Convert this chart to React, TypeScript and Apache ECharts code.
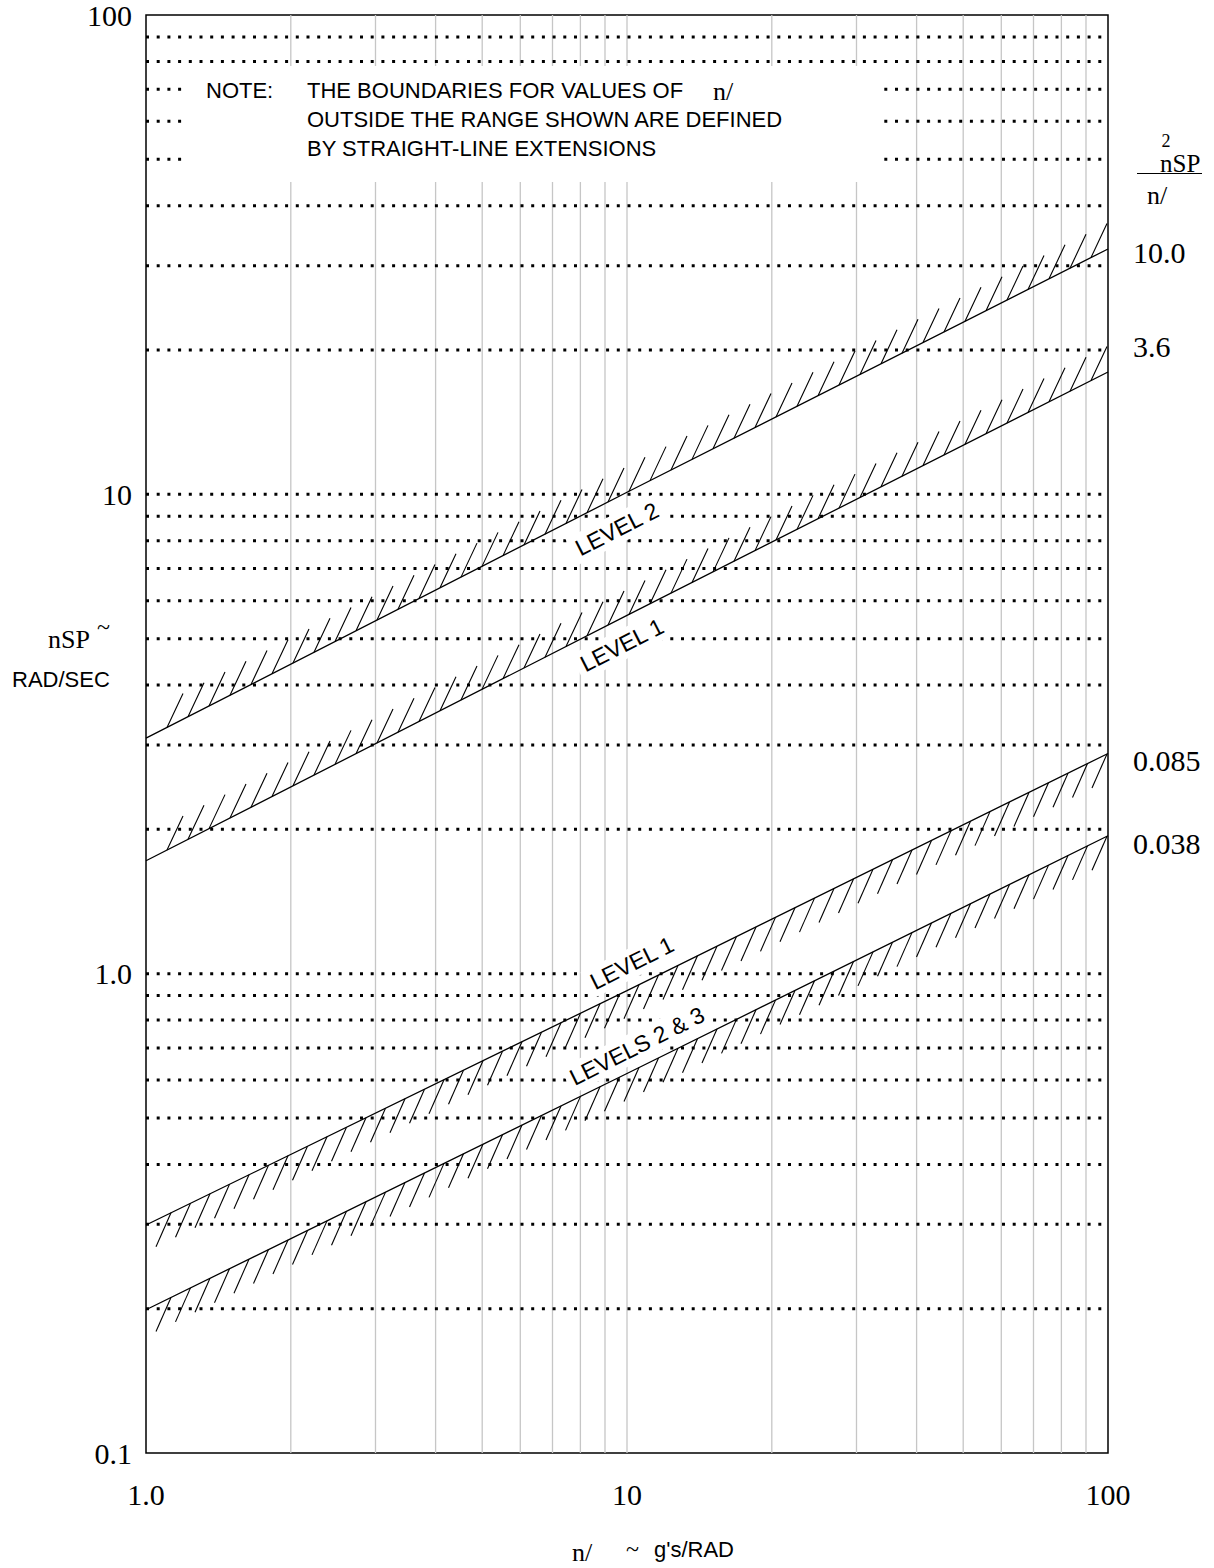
import React, { useEffect, useRef } from 'react';
import * as echarts from 'echarts';

// n/alpha sample points (g's/RAD)
const X_POINTS = [1, 10, 100];
// omega_nSP (RAD/SEC) at the X_POINTS
const LEVEL2_UPPER = [3.1, 10.1, 32.5]; // 10.0
const LEVEL1_UPPER = [1.72, 5.59, 18.0]; // 3.6
const LEVEL1_LOWER = [0.299, 0.922, 2.88]; // 0.085
const LEVEL23_LOWER = [0.199, 0.619, 1.94]; // 0.038
const BOUNDARIES = [LEVEL2_UPPER, LEVEL1_UPPER, LEVEL1_LOWER, LEVEL23_LOWER];
const BOUNDARY_NAMES = ['10.0', '3.6', '0.085', '0.038'];
const HATCH_SIDE = ['above', 'above', 'below', 'below'];

const H_GRID = [0.2, 0.3, 0.4, 0.5, 0.6, 0.7, 0.8, 0.9, 1, 2, 3, 4, 5, 6, 7, 8, 9, 10, 20, 30, 40, 50, 60, 70, 80, 90];
const V_GRID = [2, 3, 4, 5, 6, 7, 8, 9, 10, 20, 30, 40, 50, 60, 70, 80, 90];
const X_TICK_LABELS = ['1.0', '10', '100'];
const Y_TICK_LABELS = ['0.1', '1.0', '10', '100'];

const SERIF = 'Liberation Serif';
const SANS = 'Liberation Sans';

function App() {
  const ref = useRef<HTMLDivElement>(null);
  useEffect(() => {
    if (!ref.current) return;
    const chart = echarts.init(ref.current, null, { renderer: 'svg' });
    const deg = Math.PI / 180;

    const txt = (text: string, x: number, y: number, font: string, size: number, extra: any = {}) => ({
      type: 'text',
      x,
      y,
      z: 12,
      silent: true,
      rotation: extra.rotation || 0,
      style: {
        text,
        x: 0,
        y: 0,
        fill: '#000',
        fontFamily: font,
        fontSize: size,
        align: extra.align || 'left',
        verticalAlign: 'middle',
        backgroundColor: extra.bg,
        padding: extra.bg ? [3, 5] : 0,
      },
    });

    const lineSeries = BOUNDARIES.map((ys, i) => ({
      type: 'line',
      name: BOUNDARY_NAMES[i],
      data: X_POINTS.map((x, k) => [x, ys[k]]),
      showSymbol: false,
      symbol: 'none',
      silent: true,
      z: 20,
      lineStyle: { color: '#000', width: 1.3 },
    }));

    const option: any = {
      animation: false,
      backgroundColor: '#fff',
      grid: {
        left: 146,
        right: 106,
        top: 14,
        bottom: 115,
        show: true,
        borderColor: '#000',
        borderWidth: 1.5,
        backgroundColor: 'transparent',
      },
      xAxis: {
        type: 'log',
        logBase: 10,
        min: 1,
        max: 100,
        axisLine: { show: false },
        axisTick: { show: false },
        splitLine: { show: false },
        axisLabel: {
          margin: 41,
          verticalAlign: 'middle',
          fontFamily: SERIF,
          fontSize: 30,
          color: '#000',
          formatter: (v: number) => X_TICK_LABELS[Math.round(Math.log10(v))],
        },
      },
      yAxis: {
        type: 'log',
        logBase: 10,
        min: 0.1,
        max: 100,
        axisLine: { show: false },
        axisTick: { show: false },
        splitLine: { show: false },
        axisLabel: {
          margin: 14,
          fontFamily: SERIF,
          fontSize: 30,
          color: '#000',
          formatter: (v: number) => Y_TICK_LABELS[Math.round(Math.log10(v)) + 1],
        },
      },
      series: [
        {
          type: 'custom',
          silent: true,
          z: 1,
          data: V_GRID.map((v) => [v, 0.1]),
          encode: { x: 0, y: 1 },
          renderItem: (_p: any, api: any) => {
            const v = api.value(0);
            const a = api.coord([v, 0.1]);
            const b = api.coord([v, 100]);
            return {
              type: 'line',
              shape: { x1: a[0], y1: a[1], x2: b[0], y2: b[1] },
              style: { stroke: '#c6c6c6', lineWidth: 1.3 },
            };
          },
        },
        {
          type: 'custom',
          silent: true,
          z: 2,
          data: H_GRID.map((v) => [1, v]),
          encode: { x: 0, y: 1 },
          renderItem: (_p: any, api: any) => {
            const v = api.value(1);
            const a = api.coord([1, v]);
            const b = api.coord([100, v]);
            return {
              type: 'line',
              shape: { x1: a[0], y1: a[1], x2: b[0], y2: b[1] },
              style: { stroke: '#000', lineWidth: 3, lineDash: [3, 7.7], lineCap: 'butt' },
            };
          },
        },
        ...lineSeries,
        {
          type: 'custom',
          silent: true,
          z: 20,
          data: BOUNDARIES.map((_, i) => [1, 1, i]),
          encode: { x: 0, y: 1 },
          renderItem: (_p: any, api: any) => {
            const idx = api.value(2);
            const ys = BOUNDARIES[idx];
            const pts = X_POINTS.map((x, k) => api.coord([x, ys[k]]));
            const yAt = (px: number) => {
              for (let k = 0; k < pts.length - 1; k++) {
                const a = pts[k];
                const b = pts[k + 1];
                if (px >= a[0] - 0.01 && px <= b[0] + 0.01) {
                  return a[1] + ((px - a[0]) / (b[0] - a[0])) * (b[1] - a[1]);
                }
              }
              return pts[pts.length - 1][1];
            };
            const x0 = pts[0][0];
            const x1 = pts[pts.length - 1][0];
            const children: any[] = [];
            const st = { stroke: '#000', lineWidth: 1.1 };
            if (HATCH_SIDE[idx] === 'above') {
              for (let px = x1 - 17; px >= x0 + 15; px -= 21) {
                const py = yAt(px);
                children.push({ type: 'line', shape: { x1: px, y1: py, x2: px + 16, y2: py - 34 }, style: st });
              }
            } else {
              for (let px = x1 - 1; px >= x0 + 14; px -= 19.5) {
                const py = yAt(px);
                children.push({ type: 'line', shape: { x1: px, y1: py, x2: px - 15, y2: py + 34 }, style: st });
              }
            }
            return { type: 'group', children };
          },
        },
      ],
      graphic: [
        {
          type: 'rect',
          z: 10,
          silent: true,
          shape: { x: 183, y: 66, width: 699, height: 116 },
          style: { fill: '#fff' },
        },
        txt('NOTE:', 206, 90, SANS, 22),
        txt('THE BOUNDARIES FOR VALUES OF', 307, 90, SANS, 22),
        txt('n/', 713, 91, SERIF, 26),
        txt('OUTSIDE THE RANGE SHOWN ARE DEFINED', 307, 119, SANS, 22),
        txt('BY STRAIGHT-LINE EXTENSIONS', 307, 148, SANS, 22),
        // right-hand header
        txt('2', 1166, 141, SERIF, 18, { align: 'center' }),
        txt('nSP', 1160, 163, SERIF, 25),
        {
          type: 'line',
          z: 12,
          silent: true,
          shape: { x1: 1137, y1: 173.5, x2: 1202, y2: 173.5 },
          style: { stroke: '#000', lineWidth: 1 },
        },
        txt('n/', 1147, 195, SERIF, 26),
        txt(BOUNDARY_NAMES[0], 1133, 252, SERIF, 30),
        txt(BOUNDARY_NAMES[1], 1133, 346, SERIF, 30),
        txt(BOUNDARY_NAMES[2], 1133, 760, SERIF, 30),
        txt(BOUNDARY_NAMES[3], 1133, 843, SERIF, 30),
        // y-axis title
        txt('nSP', 48, 639, SERIF, 26),
        txt('~', 97, 627, SERIF, 24),
        txt('RAD/SEC', 12, 679, SANS, 22),
        // x-axis title
        txt('n/', 572, 1552, SERIF, 26),
        txt('~', 626, 1549, SERIF, 24),
        txt("g's/RAD", 654, 1549, SANS, 22),
        // boundary labels
        txt('LEVEL 2', 617, 529, SANS, 23, { align: 'center', rotation: 27 * deg, bg: '#fff' }),
        txt('LEVEL 1', 622, 645, SANS, 23, { align: 'center', rotation: 27 * deg, bg: '#fff' }),
        txt('LEVEL 1', 632, 963, SANS, 23, { align: 'center', rotation: 26.5 * deg, bg: '#fff' }),
        txt('LEVELS 2 & 3', 637, 1046, SANS, 23, { align: 'center', rotation: 26.5 * deg, bg: '#fff' }),
      ],
    };
    chart.setOption(option);
    return () => chart.dispose();
  }, []);

  return (
    <div
      ref={ref}
      style={{ position: 'absolute', left: 0, top: 0, width: 1214, height: 1568, background: '#fff' }}
    />
  );
}

export default App;
